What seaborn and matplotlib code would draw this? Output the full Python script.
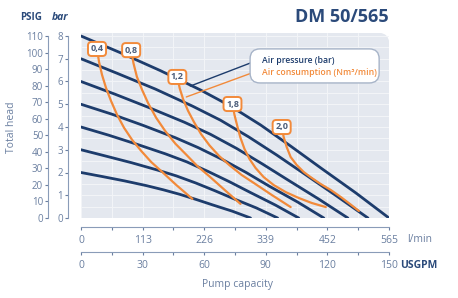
import numpy as np
import pandas as pd
import seaborn as sns
import matplotlib.pyplot as plt
from matplotlib.patches import Rectangle, Wedge, FancyBboxPatch
from matplotlib.ticker import MultipleLocator, FuncFormatter

# air pressure curves: flow (l/min) vs head (bar)
flow_8bar = [0, 71.8, 145.4, 219.0, 274.2, 329.4, 384.6, 439.9, 504.3, 565]
head_8bar = [8.0, 7.27, 6.48, 5.63, 4.92, 4.09, 3.16, 2.20, 1.10, 0.0]
flow_7bar = [0, 66.3, 136.2, 204.3, 255.8, 307.3, 358.9, 410.4, 469.3, 526.4]
head_7bar = [7.0, 6.36, 5.67, 4.92, 4.30, 3.57, 2.77, 1.93, 0.96, 0.0]
flow_6bar = [0, 62.6, 125.1, 189.6, 237.4, 285.3, 333.1, 381.0, 436.2, 489.5]
head_6bar = [6.0, 5.44, 4.85, 4.21, 3.68, 3.06, 2.37, 1.65, 0.83, 0.0]
flow_5bar = [0, 57.1, 114.1, 173.0, 215.3, 259.5, 303.7, 346.0, 397.5, 445.4]
head_5bar = [5.0, 4.56, 4.07, 3.53, 3.09, 2.57, 1.99, 1.39, 0.70, 0.0]
flow_4bar = [0, 50.8, 102.7, 154.8, 193.8, 232.8, 271.8, 310.8, 356.5, 399.4]
head_4bar = [4.0, 3.64, 3.24, 2.82, 2.47, 2.05, 1.60, 1.12, 0.57, 0.0]
flow_3bar = [0, 45.8, 92.8, 139.9, 175.0, 210.4, 245.5, 280.8, 321.9, 360.7]
head_3bar = [3.0, 2.72, 2.43, 2.11, 1.85, 1.54, 1.20, 0.84, 0.44, 0.0]
flow_2bar = [0, 39.6, 80.1, 120.5, 150.9, 181.3, 211.8, 242.2, 277.5, 311.0]
head_2bar = [2.0, 1.82, 1.63, 1.42, 1.24, 1.04, 0.81, 0.57, 0.30, 0.0]

# air consumption curves (Nm3/min)
cons_labels = ["0,4", "0,8", "1,2", "1,8", "2,0"]
flow_c04 = [29.4, 33.1, 38.6, 46.0, 55.2, 66.3, 79.1, 93.9, 110.4, 128.8,
            149.1, 174.8, 204.3]
head_c04 = [7.43, 6.86, 6.29, 5.71, 5.14, 4.53, 3.96, 3.43, 2.95, 2.46,
            2.02, 1.45, 0.84]
flow_c08 = [92.0, 96.3, 102.5, 112.3, 123.3, 138.0, 154.6, 173.0, 193.2,
            213.5, 235.6, 263.2, 292.6]
head_c08 = [7.38, 6.80, 6.21, 5.62, 5.04, 4.40, 3.82, 3.27, 2.78, 2.28,
            1.83, 1.24, 0.62]
flow_c12 = [176.7, 181.1, 187.5, 196.4, 207.2, 220.5, 235.8, 253.2, 272.9,
            294.8, 318.9, 349.5, 384.6]
head_c12 = [6.20, 5.70, 5.21, 4.71, 4.22, 3.68, 3.19, 2.73, 2.31, 1.89,
            1.51, 1.02, 0.48]
flow_c18 = [277.9, 281.6, 287.1, 292.6, 300.0, 309.2, 320.2, 335.0, 353.4,
            375.4, 399.4, 423.3, 449.1]
head_c18 = [5.01, 4.53, 4.00, 3.52, 3.03, 2.59, 2.20, 1.80, 1.45, 1.14,
            0.88, 0.66, 0.48]
flow_c20 = [368.1, 371.8, 377.3, 384.6, 395.7, 408.6, 423.3, 439.9, 458.3,
            476.7, 493.2, 509.8]
head_c20 = [4.0, 3.56, 3.12, 2.68, 2.33, 2.02, 1.76, 1.49, 1.23, 0.92,
            0.62, 0.31]

# legend leader lines
leader_flow = [320.2, 200.6]
leader_head_p = [6.90, 5.80]
leader_flow_c = [318.4, 193.2]
leader_head_c = [6.42, 5.32]

lmin_ticks = np.arange(0, 566, 56.5)
gpm_ticks = np.arange(0, 151, 15)

blue = "#1d3c6c"
orange = "#f28a3a"
dark = "#2b4a7a"
tickc = "#6a7fa0"
spinec = "#8a9cb8"

rows = []
for name, fl, hd in [("8", flow_8bar, head_8bar), ("7", flow_7bar, head_7bar),
                     ("6", flow_6bar, head_6bar), ("5", flow_5bar, head_5bar),
                     ("4", flow_4bar, head_4bar), ("3", flow_3bar, head_3bar),
                     ("2", flow_2bar, head_2bar)]:
    for f, h in zip(fl, hd):
        rows.append({"curve": name, "flow": f, "head": h})
df_p = pd.DataFrame(rows)

rows = []
cons_data = [(flow_c04, head_c04), (flow_c08, head_c08), (flow_c12, head_c12),
             (flow_c18, head_c18), (flow_c20, head_c20)]
for name, (fl, hd) in zip(cons_labels, cons_data):
    for f, h in zip(fl, hd):
        rows.append({"curve": name, "flow": f, "head": h})
df_c = pd.DataFrame(rows)

sns.set_style("white")
plt.rcParams["font.family"] = ["Open Sans", "DejaVu Sans"]

fig = plt.figure(figsize=(4.58, 2.98), dpi=100)
ax = fig.add_axes([81 / 458, 80 / 298, 308 / 458, 185 / 298])
ax.set_facecolor("none")

# background with rounded top-right corner (inches)
bg = "#e4e8ef"
x0, x1, y0, y1, r = 0.81, 3.89, 0.80, 2.65, 0.09
for p in [Rectangle((x0, y0), x1 - x0, y1 - y0 - r),
          Rectangle((x0, y1 - r), x1 - x0 - r, r),
          Wedge((x1 - r, y1 - r), r, 0, 90)]:
    p.set_transform(fig.dpi_scale_trans)
    p.set_facecolor(bg)
    p.set_edgecolor("none")
    p.set_zorder(-1)
    fig.add_artist(p)

sns.lineplot(data=df_p, x="flow", y="head", units="curve", estimator=None,
             sort=False, color=blue, lw=2.0, ax=ax, legend=False)
sns.lineplot(data=df_c, x="flow", y="head", units="curve", estimator=None,
             sort=False, color=orange, lw=1.6, ax=ax, legend=False)

for name, (fl, hd) in zip(cons_labels, cons_data):
    ax.text(fl[0], hd[0], name, ha="center", va="center", fontsize=6.5,
            fontweight="bold", color="#4b5d7a", zorder=6,
            bbox=dict(boxstyle="round,pad=0.28,rounding_size=0.4",
                      fc="white", ec=orange, lw=1.4))

ax.plot(leader_flow, leader_head_p, color=blue, lw=1.0, zorder=4)
ax.plot(leader_flow_c, leader_head_c, color=orange, lw=1.0, zorder=4)
ax.add_patch(FancyBboxPatch((0.549, 0.730), 0.419, 0.184,
                            boxstyle="round,pad=0,rounding_size=0.032",
                            mutation_aspect=1.665, transform=ax.transAxes,
                            fc="white", ec="#a7b4c8", lw=1.0, zorder=5))
ax.text(0.588, 0.849, "Air pressure (bar)", transform=ax.transAxes,
        fontsize=6.2, color=blue, fontweight="semibold", va="center", zorder=6)
ax.text(0.588, 0.784, "Air consumption (Nm³/min)", transform=ax.transAxes,
        fontsize=6.2, color=orange, fontweight="semibold", va="center", zorder=6)

ax.set_xlim(0, 565)
ax.set_ylim(0, 185 / 22.75)
ax.set_xlabel("")
ax.set_ylabel("")

# bar axis
ax.set_yticks(range(9))
ax.yaxis.set_minor_locator(MultipleLocator(0.5))
ax.set_xticks(lmin_ticks)
ax.xaxis.set_major_formatter(FuncFormatter(
    lambda v, p: "%d" % round(v) if p % 2 == 0 else ""))
ax.grid(axis="x", which="major", color="#f3f5f8", lw=0.7)
ax.grid(axis="y", which="both", color="#f3f5f8", lw=0.7)
ax.set_axisbelow(True)
for s in ["top", "right"]:
    ax.spines[s].set_visible(False)
ax.spines["left"].set_position(("outward", 9.4))
ax.spines["left"].set_bounds(0, 8)
ax.spines["bottom"].set_position(("outward", 6.5))
ax.spines["bottom"].set_bounds(0, 565)
for s in ["left", "bottom"]:
    ax.spines[s].set_color(spinec)
    ax.spines[s].set_linewidth(0.8)
ax.tick_params(axis="y", which="major", direction="out", length=2.5, width=0.8,
               pad=1, labelsize=7, colors=tickc)
ax.tick_params(axis="y", which="minor", length=0)
ax.tick_params(axis="x", direction="out", length=2.5, width=0.8, pad=3,
               labelsize=7.5, colors=tickc)

# PSIG axis
ax_psi = ax.twinx()
ax_psi.set_ylim(0, 185 / 22.75 * 110 / 8)
ax_psi.set_yticks(range(0, 111, 10))
ax_psi.yaxis.set_ticks_position("left")
for s in ["top", "right", "bottom"]:
    ax_psi.spines[s].set_visible(False)
ax_psi.spines["left"].set_visible(True)
ax_psi.spines["left"].set_position(("outward", 23.8))
ax_psi.spines["left"].set_bounds(0, 110)
ax_psi.spines["left"].set_color(spinec)
ax_psi.spines["left"].set_linewidth(0.8)
ax_psi.tick_params(axis="y", direction="out", length=2.5, width=0.8, pad=1,
                   labelsize=7, colors=tickc)
ax_psi.grid(False)

# USGPM axis
ax_us = ax.twiny()
ax_us.set_xlim(0, 150)
ax_us.set_xticks(gpm_ticks)
ax_us.xaxis.set_major_formatter(FuncFormatter(
    lambda v, p: "%d" % round(v) if p % 2 == 0 else ""))
ax_us.xaxis.set_ticks_position("bottom")
for s in ["top", "right", "left"]:
    ax_us.spines[s].set_visible(False)
ax_us.spines["bottom"].set_visible(True)
ax_us.spines["bottom"].set_position(("outward", 24.5))
ax_us.spines["bottom"].set_bounds(0, 150)
ax_us.spines["bottom"].set_color(spinec)
ax_us.spines["bottom"].set_linewidth(0.8)
ax_us.tick_params(axis="x", direction="out", length=2.5, width=0.8, pad=3,
                  labelsize=7.5, colors=tickc)
ax_us.grid(False)

fig.text(295 / 458, 1 - 17 / 298, "DM 50/565", fontsize=13, fontweight="bold",
         color=dark, va="center", ha="left")
fig.text(20 / 458, 1 - 18 / 298, "PSIG", fontsize=7, fontweight="bold",
         color=dark, va="center", ha="left")
fig.text(52 / 458, 1 - 18 / 298, "bar", fontsize=7.5, fontstyle="italic",
         fontweight="bold", color=dark, va="center", ha="left")
fig.text(12 / 458, 1 - 127 / 298, "Total head", fontsize=7.5, color=tickc,
         rotation=90, va="center", ha="center")
fig.text(238 / 458, 1 - 285 / 298, "Pump capacity", fontsize=7.5, color=tickc,
         va="center", ha="center")
fig.text(407 / 458, 1 - 239 / 298, "l/min", fontsize=7.5, color=tickc,
         va="center", ha="left")
fig.text(400 / 458, 1 - 265 / 298, "USGPM", fontsize=7.5, fontweight="bold",
         color=dark, va="center", ha="left")

fig.savefig("out.png", dpi=100)
